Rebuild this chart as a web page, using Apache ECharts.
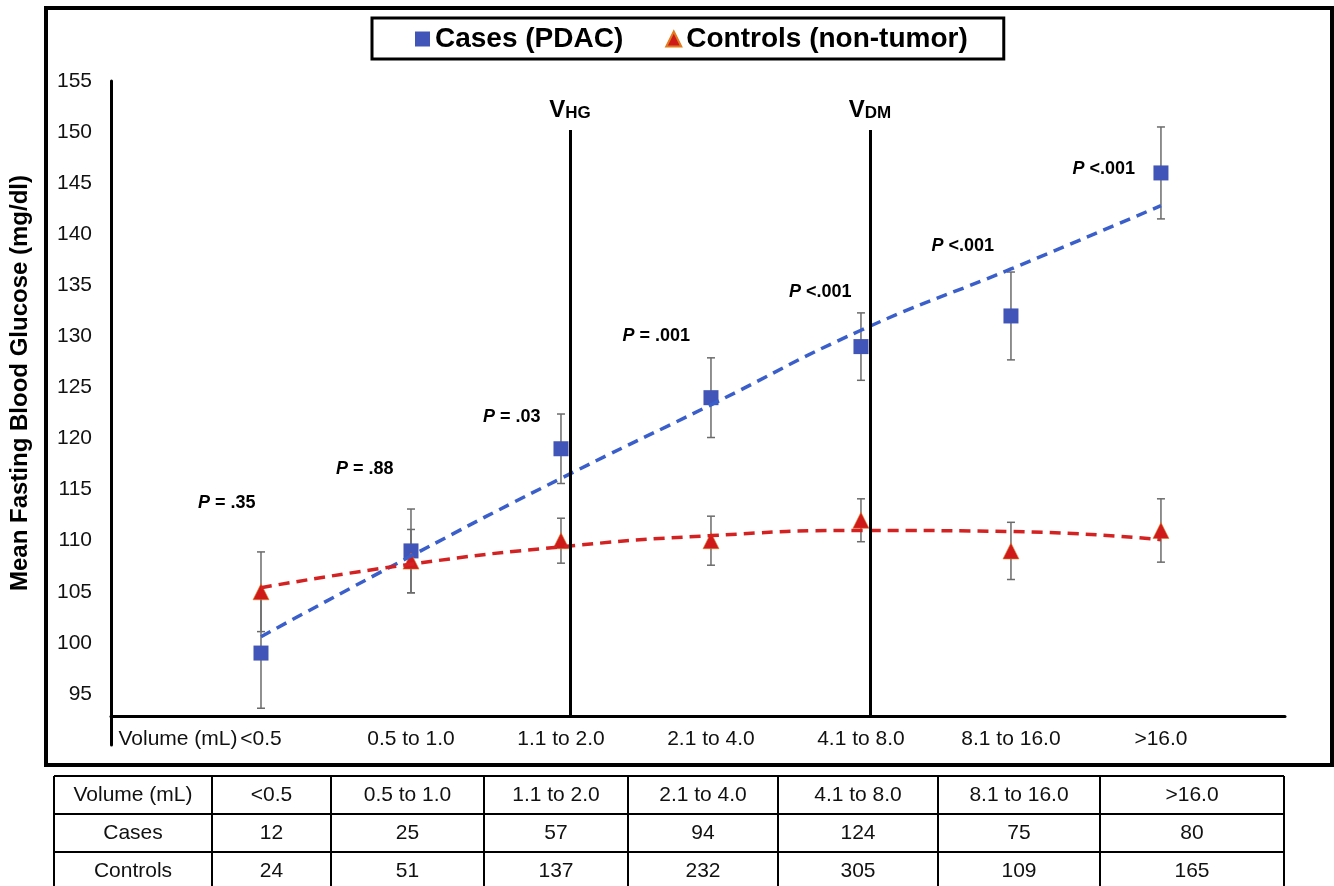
<!DOCTYPE html>
<html>
<head>
<meta charset="utf-8">
<script src="https://cdn.jsdelivr.net/npm/echarts@6/dist/echarts.min.js"></script>
<style>
  html, body { margin: 0; padding: 0; background: #fff; }
  #chart { width: 1334px; height: 886px; }
</style>
</head>
<body>
<div id="chart"></div>
<script>
// volume bins (mL)
const volumes = ['<0.5', '0.5 to 1.0', '1.1 to 2.0', '2.1 to 4.0', '4.1 to 8.0', '8.1 to 16.0', '>16.0'];
// mean fasting blood glucose (mg/dl) +- error
const caseMeans = [99, 109, 119, 124, 129, 132, 146];
const caseErr = [5.4, 4.1, 3.4, 3.9, 3.3, 4.3, 4.5];
const controlMeans = [105, 108, 110, 110, 112, 109, 111];
const controlErr = [3.9, 3.1, 2.2, 2.4, 2.1, 2.8, 3.1];
// trendlines at each bin
const caseTrend = [100.6, 108.5, 116.1, 123.3, 130.6, 136.6, 142.8];
const controlTrend = [105.4, 107.7, 109.4, 110.5, 111.0, 110.9, 110.1];
const pValues = ['= .35', '= .88', '= .03', '= .001', '<.001', '<.001', '<.001'];
// group sizes for the table
const caseCounts = [12, 25, 57, 94, 124, 75, 80];
const controlCounts = [24, 51, 137, 232, 305, 109, 165];
// volume thresholds
const thresholdNames = ['HG', 'DM'];

// layout only
const thresholdX = [2.06, 4.06];
const thresholdTop = 150.2;
const xLineAt = 92.85;
const pLabelPos = [[-0.42, 113.7], [-0.5, 117.0], [-0.52, 122.1], [-0.59, 130.0], [-0.48, 134.3], [-0.53, 138.8], [-0.59, 146.4]];
const colEdges = [54, 212, 331, 484, 628, 778, 938, 1100, 1284];
const rowEdges = [776, 814, 852, 890];

const FONT = '"Liberation Sans", Arial, sans-serif';

function errorBars(means, errs) {
  return {
    type: 'custom',
    silent: true,
    z: 1,
    encode: { x: 0, y: [1, 2] },
    data: means.map((m, i) => [i, m + errs[i], m - errs[i]]),
    renderItem: function (params, api) {
      const x = api.value(0);
      const hi = api.coord([x, api.value(1)]);
      const lo = api.coord([x, api.value(2)]);
      const w = 4;
      const style = { stroke: '#6b6b6b', lineWidth: 1.5 };
      return {
        type: 'group',
        children: [
          { type: 'line', shape: { x1: hi[0], y1: hi[1], x2: lo[0], y2: lo[1] }, style: style },
          { type: 'line', shape: { x1: hi[0] - w, y1: hi[1], x2: hi[0] + w, y2: hi[1] }, style: style },
          { type: 'line', shape: { x1: lo[0] - w, y1: lo[1], x2: lo[0] + w, y2: lo[1] }, style: style }
        ]
      };
    }
  };
}

// table under the chart
function buildTable() {
  const rows = [['Volume (mL)'].concat(volumes), ['Cases'].concat(caseCounts), ['Controls'].concat(controlCounts)];
  const els = [];
  const line = { stroke: '#000', lineWidth: 2 };
  rowEdges.forEach(y => {
    els.push({ type: 'line', shape: { x1: colEdges[0], y1: y, x2: colEdges[colEdges.length - 1], y2: y }, style: line });
  });
  colEdges.forEach(x => {
    els.push({ type: 'line', shape: { x1: x, y1: rowEdges[0], x2: x, y2: rowEdges[rowEdges.length - 1] }, style: line });
  });
  rows.forEach((row, r) => {
    row.forEach((cell, c) => {
      els.push({
        type: 'text',
        x: (colEdges[c] + colEdges[c + 1]) / 2,
        y: (rowEdges[r] + rowEdges[r + 1]) / 2,
        style: { text: String(cell), font: '21px ' + FONT, fill: '#111', align: 'center', verticalAlign: 'middle' }
      });
    });
  });
  return els;
}

const chart = echarts.init(document.getElementById('chart'));

chart.setOption({
  animation: false,
  backgroundColor: '#fff',
  textStyle: { fontFamily: FONT },
  grid: { left: 111, right: 49, top: 81, bottom: 141 },
  legend: {
    left: 372,
    top: 18,
    data: [
      { name: 'Cases (PDAC)', icon: 'rect' },
      { name: 'Controls (non-tumor)', icon: 'triangle' }
    ],
    itemWidth: 15,
    itemHeight: 15,
    itemGap: 42,
    selectedMode: false,
    textStyle: { fontSize: 28, fontWeight: 'bold', color: '#000', fontFamily: FONT },
    borderColor: '#000',
    borderWidth: 3,
    padding: [7, 36, 6, 43]
  },
  xAxis: {
    type: 'value',
    min: -1,
    max: 6.827,
    interval: 1,
    offset: -29,
    axisLine: { show: true, onZero: false, lineStyle: { color: '#000', width: 3 } },
    axisTick: { show: false },
    splitLine: { show: false },
    axisLabel: {
      margin: 13,
      fontSize: 21,
      color: '#111',
      showMinLabel: true,
      showMaxLabel: false,
      formatter: function (v) {
        if (v === -1) return '{vol|Volume (mL)}';
        return volumes[v] || '';
      },
      rich: { vol: { fontSize: 21, color: '#111', padding: [0, 0, 0, 134] } }
    }
  },
  yAxis: {
    type: 'value',
    min: 90,
    max: 155,
    interval: 5,
    axisLine: { show: true, onZero: false, lineStyle: { color: '#000', width: 3 } },
    axisTick: { show: false },
    splitLine: { show: false },
    axisLabel: {
      margin: 19,
      fontSize: 21,
      color: '#111',
      formatter: v => (v === 90 ? '' : v)
    }
  },
  graphic: [
    {
      type: 'rect',
      shape: { x: 46, y: 8, width: 1286, height: 757 },
      style: { fill: 'none', stroke: '#000', lineWidth: 4 },
      silent: true
    },
    {
      type: 'text',
      x: 20,
      y: 383,
      rotation: Math.PI / 2,
      style: {
        text: 'Mean Fasting Blood Glucose (mg/dl)',
        font: 'bold 24px ' + FONT,
        fill: '#000',
        align: 'center',
        verticalAlign: 'middle'
      }
    }
  ].concat(buildTable()),
  series: [
    errorBars(caseMeans, caseErr),
    errorBars(controlMeans, controlErr),
    {
      name: 'Cases (PDAC)',
      type: 'scatter',
      symbol: 'rect',
      symbolSize: 15,
      z: 3,
      itemStyle: { color: '#4154b8', opacity: 1 },
      data: caseMeans.map((v, i) => [i, v])
    },
    {
      name: 'Controls (non-tumor)',
      type: 'scatter',
      symbol: 'triangle',
      symbolSize: 16,
      z: 3,
      itemStyle: { color: '#cf1a1a', borderColor: '#e07b20', borderWidth: 0.6, opacity: 1 },
      data: controlMeans.map((v, i) => [i, v])
    },
    {
      name: 'case trend',
      type: 'line',
      smooth: true,
      symbol: 'none',
      z: 4,
      lineStyle: { color: '#3a5fcb', width: 3.5, type: [11, 7] },
      data: caseTrend.map((v, i) => [i, v])
    },
    {
      name: 'control trend',
      type: 'line',
      smooth: true,
      symbol: 'none',
      z: 4,
      lineStyle: { color: '#d42222', width: 3.5, type: [11, 7] },
      data: controlTrend.map((v, i) => [i, v])
    },
    {
      name: 'thresholds',
      type: 'line',
      data: [],
      z: 5,
      markLine: {
        silent: true,
        symbol: 'none',
        animation: false,
        lineStyle: { color: '#000', width: 3, type: 'solid' },
        label: {
          show: true,
          position: 'end',
          distance: 8,
          formatter: p => '{v|V}{s|' + thresholdNames[p.dataIndex] + '}',
          rich: {
            v: { fontSize: 24, fontWeight: 'bold', color: '#000', verticalAlign: 'bottom', lineHeight: 26 },
            s: { fontSize: 17, fontWeight: 'bold', color: '#000', verticalAlign: 'bottom', lineHeight: 26 }
          }
        },
        data: thresholdX.map(x => [{ coord: [x, xLineAt] }, { coord: [x, thresholdTop] }])
      }
    },
    {
      name: 'p values',
      type: 'scatter',
      symbolSize: 0,
      silent: true,
      z: 6,
      itemStyle: { opacity: 1 },
      data: pValues.map((p, i) => [i + pLabelPos[i][0], pLabelPos[i][1]]),
      label: {
        show: true,
        position: 'right',
        distance: 0,
        formatter: p => '{i|P}{b| ' + pValues[p.dataIndex] + '}',
        rich: {
          i: { fontSize: 18, fontWeight: 'bold', fontStyle: 'italic', color: '#000' },
          b: { fontSize: 18, fontWeight: 'bold', color: '#000' }
        }
      }
    }
  ]
});
</script>
</body>
</html>
